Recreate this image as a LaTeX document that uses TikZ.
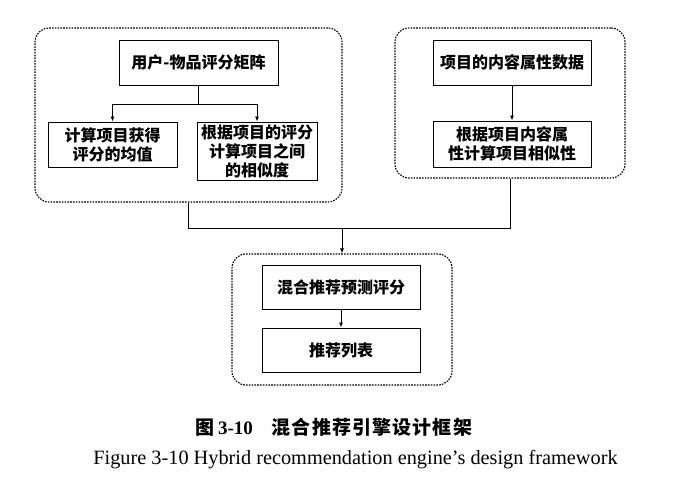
\documentclass[tikz,border=0pt]{standalone}
\usepackage{fontspec}
\setmainfont{Liberation Serif}
\newfontfamily\cjk{Noto Sans CJK SC}
\newfontfamily\capfont{Noto Sans CJK SC}[LetterSpace=6]
\usetikzlibrary{arrows.meta}

\begin{document}
\begin{tikzpicture}[x=1pt,y=1pt,
  stepbox/.style={draw,line width=0.9pt,inner sep=0pt,align=center,
    font=\cjk\bfseries\fontsize{16}{19}\selectfont},
  group/.style={draw,line width=1.1pt,dash pattern=on 1.6pt off 1.2pt,
    rounded corners=14pt,inner sep=0pt},
  link/.style={line width=0.9pt},
  arr/.style={link,-{Latex[length=5pt,width=4pt]}}]
\useasboundingbox (0,0) rectangle (700,-480);
% dotted groups
\node[group,minimum width=307,minimum height=174] (gl) at (188.5,-115) {};
\node[group,minimum width=230,minimum height=150] (gr) at (510,-103) {};
\node[group,minimum width=220,minimum height=131] (gb) at (342,-319.5) {};
% left group
\node[stepbox,minimum width=159,minimum height=45] (um) at (198.5,-62.5) {用户-物品评分矩阵};
\node[stepbox,minimum width=129,minimum height=45] (avg) at (112.5,-144.5) {计算项目获得\\评分的均值};
\node[stepbox,minimum width=120,minimum height=58] (sim) at (257,-151) {根据项目的评分\\计算项目之间\\的相似度};
% right group
\node[stepbox,minimum width=158,minimum height=45] (attr) at (512,-62.5) {项目的内容属性数据};
\node[stepbox,minimum width=158,minimum height=46] (csim) at (512,-144) {根据项目内容属\\性计算项目相似性};
% bottom group
\node[stepbox,minimum width=158,minimum height=44] (pred) at (341,-287) {混合推荐预测评分};
\node[stepbox,minimum width=158,minimum height=44] (list) at (341,-350) {推荐列表};
% connectors
\coordinate (split) at (198.5,-104);
\draw[link] (um.south) -- (split);
\foreach \dst in {avg,sim}
  {\draw[arr] (split) -| (\dst.north);}
\draw[arr] (attr.south) -- (csim.north);
\coordinate (merge) at (342,-228);
\draw[link] (gl.south) |- (merge);
\draw[link] (gr.south) |- (merge);
\draw[arr] (merge) -- (gb.north);
\draw[arr] (pred.south) -- (list.north);
% captions
\node[font=\capfont\bfseries\fontsize{19}{22}\selectfont] (capzh) at (334,-427)
  {图\,{\rmfamily\bfseries 3-10}\quad 混合推荐引擎设计框架};
\node[font=\fontsize{20.3}{24}\selectfont] (capen) at (355.5,-460)
  {Figure 3-10 Hybrid recommendation engine's design framework};
\end{tikzpicture}
\end{document}
